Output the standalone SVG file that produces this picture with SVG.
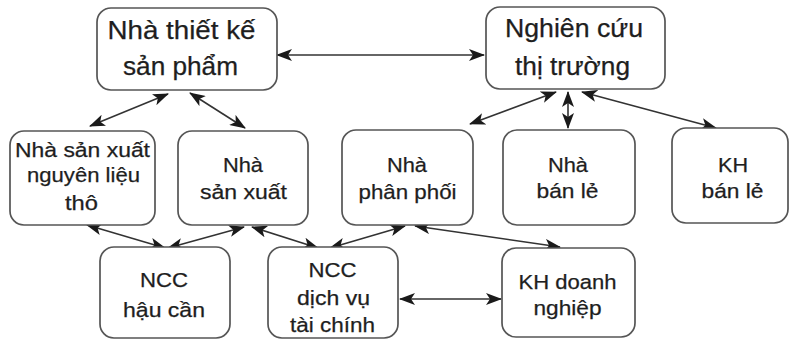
<svg xmlns="http://www.w3.org/2000/svg" width="790" height="341" viewBox="0 0 790 341">
<style>
.box{fill:#fff;stroke:#555;stroke-width:1.7}
.t{font-family:"Liberation Sans",Arial,sans-serif;fill:#1e1e1e;text-anchor:middle;stroke:#1e1e1e;stroke-width:0.25}
.big{font-size:25px}
.sm{font-size:20.5px}
.c{fill:none;stroke:#333;stroke-width:1.6;marker-start:url(#ah);marker-end:url(#ah)}
</style>
<defs>
<marker id="ah" viewBox="0 0 16 12" refX="15" refY="6" markerWidth="16" markerHeight="12" markerUnits="userSpaceOnUse" orient="auto-start-reverse">
<path d="M0,0 L16,6 L0,12 L4,6 Z" fill="#1a1a1a"/>
</marker>
</defs>
<rect width="790" height="341" fill="#fff"/>
<g id="connectors">
<line class="c" x1="277" y1="55" x2="484" y2="55"/>
<line class="c" x1="168" y1="94" x2="90" y2="126"/>
<line class="c" x1="190" y1="93" x2="245" y2="128"/>
<line class="c" x1="556" y1="92" x2="470" y2="124"/>
<line class="c" x1="568" y1="92" x2="568" y2="128"/>
<line class="c" x1="582" y1="92" x2="716" y2="128"/>
<line class="c" x1="87" y1="225" x2="165" y2="248"/>
<line class="c" x1="244" y1="227" x2="168" y2="248"/>
<line class="c" x1="252" y1="227" x2="318" y2="248"/>
<line class="c" x1="405" y1="226" x2="330" y2="248"/>
<line class="c" x1="415" y1="226" x2="560" y2="247"/>
<line class="c" x1="400" y1="299" x2="501" y2="299"/>
</g>
<g id="designer">
<rect class="box" x="97" y="8" width="180" height="82" rx="14"/>
<text class="t big" x="181.5" y="39" textLength="148" lengthAdjust="spacingAndGlyphs">Nhà thiết kế</text>
<text class="t big" x="180.5" y="75" textLength="115" lengthAdjust="spacingAndGlyphs">sản phẩm</text>
</g>
<g id="market">
<rect class="box" x="486" y="7" width="179" height="82" rx="14"/>
<text class="t big" x="574" y="37" textLength="138" lengthAdjust="spacingAndGlyphs">Nghiên cứu</text>
<text class="t big" x="572.5" y="75" textLength="115" lengthAdjust="spacingAndGlyphs">thị trường</text>
</g>
<g id="raw">
<rect class="box" x="10" y="131" width="145" height="94" rx="14"/>
<text class="t sm" x="82.5" y="157" textLength="135" lengthAdjust="spacingAndGlyphs">Nhà sản xuất</text>
<text class="t sm" x="83.5" y="182" textLength="113" lengthAdjust="spacingAndGlyphs">nguyên liệu</text>
<text class="t sm" x="81.5" y="210" textLength="33" lengthAdjust="spacingAndGlyphs">thô</text>
</g>
<g id="manufacturer">
<rect class="box" x="178" y="131" width="130" height="94" rx="14"/>
<text class="t sm" x="243" y="172" textLength="40" lengthAdjust="spacingAndGlyphs">Nhà</text>
<text class="t sm" x="243.5" y="199" textLength="87" lengthAdjust="spacingAndGlyphs">sản xuất</text>
</g>
<g id="distributor">
<rect class="box" x="342" y="130" width="131" height="95" rx="14"/>
<text class="t sm" x="407" y="172" textLength="40" lengthAdjust="spacingAndGlyphs">Nhà</text>
<text class="t sm" x="407.5" y="199" textLength="98" lengthAdjust="spacingAndGlyphs">phân phối</text>
</g>
<g id="retailer">
<rect class="box" x="503" y="130" width="132" height="95" rx="14"/>
<text class="t sm" x="568" y="172" textLength="40" lengthAdjust="spacingAndGlyphs">Nhà</text>
<text class="t sm" x="567.5" y="198" textLength="62" lengthAdjust="spacingAndGlyphs">bán lẻ</text>
</g>
<g id="retail-customer">
<rect class="box" x="672" y="128" width="116" height="95" rx="14"/>
<text class="t sm" x="733" y="172" textLength="30" lengthAdjust="spacingAndGlyphs">KH</text>
<text class="t sm" x="732.5" y="198" textLength="62" lengthAdjust="spacingAndGlyphs">bán lẻ</text>
</g>
<g id="logistics">
<rect class="box" x="100" y="247" width="130" height="91" rx="14"/>
<text class="t sm" x="164" y="287" textLength="48" lengthAdjust="spacingAndGlyphs">NCC</text>
<text class="t sm" x="164" y="317" textLength="82" lengthAdjust="spacingAndGlyphs">hậu cần</text>
</g>
<g id="finance">
<rect class="box" x="268" y="247" width="130" height="91" rx="14"/>
<text class="t sm" x="332.5" y="277" textLength="48" lengthAdjust="spacingAndGlyphs">NCC</text>
<text class="t sm" x="333.5" y="305" textLength="73" lengthAdjust="spacingAndGlyphs">dịch vụ</text>
<text class="t sm" x="332.5" y="332" textLength="85" lengthAdjust="spacingAndGlyphs">tài chính</text>
</g>
<g id="business-customer">
<rect class="box" x="502" y="248" width="133" height="89" rx="14"/>
<text class="t sm" x="567.5" y="289" textLength="98" lengthAdjust="spacingAndGlyphs">KH doanh</text>
<text class="t sm" x="567.5" y="315" textLength="68" lengthAdjust="spacingAndGlyphs">nghiệp</text>
</g>
</svg>
